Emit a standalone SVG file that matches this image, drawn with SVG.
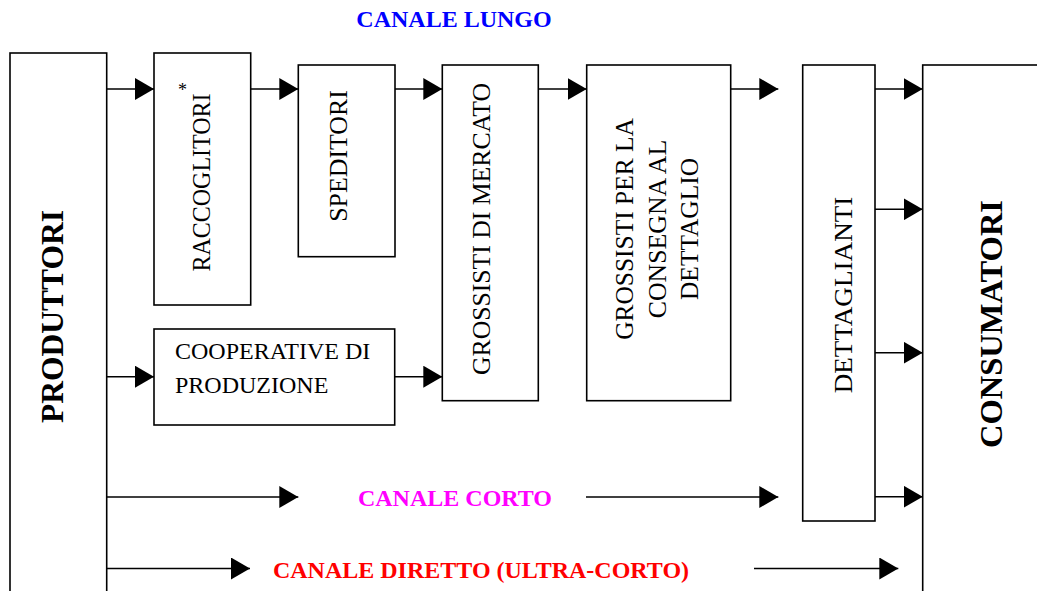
<svg xmlns="http://www.w3.org/2000/svg" width="1037" height="591" viewBox="0 0 1037 591">
<style>
.box{fill:#fff;stroke:#000;stroke-width:1.6}
.ln{fill:none;stroke:#000;stroke-width:1.6}
.t{font-family:"Liberation Serif","Times New Roman",serif;font-size:25px;fill:#000}
.tb{font-family:"Liberation Serif","Times New Roman",serif;font-size:32px;font-weight:bold;fill:#000}
.lab{font-family:"Liberation Serif","Times New Roman",serif;font-size:24px;font-weight:bold}
</style>
<defs>
<marker id="ah" markerUnits="userSpaceOnUse" markerWidth="20" markerHeight="22" refX="19" refY="11" orient="auto">
<path d="M0,0 L19,11 L0,22 z" fill="#000"/>
</marker>
</defs>
<rect width="1037" height="591" fill="#fff"/>
<g id="labels">
<text class="lab" x="454" y="26.7" text-anchor="middle" fill="#0000ff">CANALE LUNGO</text>
<text class="lab" x="455" y="506" text-anchor="middle" fill="#ff00ff">CANALE CORTO</text>
<text class="lab" x="481" y="578" text-anchor="middle" fill="#ff0000">CANALE DIRETTO (ULTRA-CORTO)</text>
</g>
<g id="produttori">
<rect class="box" x="10" y="53" width="96.7" height="600"/>
<text class="tb" transform="translate(63.3,316.5) rotate(-90)" text-anchor="middle" textLength="213" lengthAdjust="spacingAndGlyphs">PRODUTTORI</text>
</g>
<g id="raccoglitori">
<rect class="box" x="154" y="53" width="96.7" height="252"/>
<text class="t" transform="translate(210,182.5) rotate(-90)" text-anchor="middle" textLength="178" lengthAdjust="spacingAndGlyphs">RACCOGLITORI</text>
<text x="182.5" y="96" text-anchor="middle" style="font-family:'Liberation Serif',serif;font-size:18px">*</text>
</g>
<g id="speditori">
<rect class="box" x="298.3" y="65" width="96.7" height="191.7"/>
<text class="t" transform="translate(346.7,156) rotate(-90)" text-anchor="middle" textLength="131.7" lengthAdjust="spacingAndGlyphs">SPEDITORI</text>
</g>
<g id="grossisti-mercato">
<rect class="box" x="442.3" y="65" width="96" height="335.7"/>
<text class="t" transform="translate(490,229) rotate(-90)" text-anchor="middle" textLength="292" lengthAdjust="spacingAndGlyphs">GROSSISTI DI MERCATO</text>
</g>
<g id="grossisti-dettaglio">
<rect class="box" x="586.7" y="65" width="144" height="335.7"/>
<text class="t" transform="translate(633.3,229) rotate(-90)" text-anchor="middle" textLength="221.6" lengthAdjust="spacingAndGlyphs">GROSSISTI PER LA</text>
<text class="t" transform="translate(665.5,229) rotate(-90)" text-anchor="middle" textLength="178.5" lengthAdjust="spacingAndGlyphs">CONSEGNA AL</text>
<text class="t" transform="translate(698.3,229) rotate(-90)" text-anchor="middle" textLength="142" lengthAdjust="spacingAndGlyphs">DETTAGLIO</text>
</g>
<g id="dettaglianti">
<rect class="box" x="802.7" y="65" width="72.3" height="456"/>
<text class="t" transform="translate(851.7,295) rotate(-90)" text-anchor="middle" textLength="196.7" lengthAdjust="spacingAndGlyphs">DETTAGLIANTI</text>
</g>
<g id="consumatori">
<rect class="box" x="922.7" y="65" width="200" height="600"/>
<text class="tb" transform="translate(1001.7,324) rotate(-90)" text-anchor="middle" textLength="248" lengthAdjust="spacingAndGlyphs">CONSUMATORI</text>
</g>
<g id="cooperative">
<rect class="box" x="154" y="329" width="240.7" height="96"/>
<text class="t" x="175" y="359" style="font-size:24px">COOPERATIVE DI</text>
<text class="t" x="175" y="392.7" style="font-size:24px">PRODUZIONE</text>
</g>
<g id="connectors">
<line class="ln" x1="106.7" y1="89" x2="154" y2="89" marker-end="url(#ah)"/>
<line class="ln" x1="250.7" y1="89" x2="298.3" y2="89" marker-end="url(#ah)"/>
<line class="ln" x1="395" y1="89" x2="442.3" y2="89" marker-end="url(#ah)"/>
<line class="ln" x1="538.3" y1="89" x2="586.7" y2="89" marker-end="url(#ah)"/>
<line class="ln" x1="730.7" y1="89" x2="778.3" y2="89" marker-end="url(#ah)"/>
<line class="ln" x1="875" y1="89" x2="922.7" y2="89" marker-end="url(#ah)"/>
<line class="ln" x1="875" y1="209.3" x2="922.7" y2="209.3" marker-end="url(#ah)"/>
<line class="ln" x1="875" y1="352.7" x2="922.7" y2="352.7" marker-end="url(#ah)"/>
<line class="ln" x1="875" y1="496.7" x2="922.7" y2="496.7" marker-end="url(#ah)"/>
<line class="ln" x1="106.7" y1="376.7" x2="154" y2="376.7" marker-end="url(#ah)"/>
<line class="ln" x1="394.7" y1="376.7" x2="442.3" y2="376.7" marker-end="url(#ah)"/>
<line class="ln" x1="106.7" y1="497" x2="298.3" y2="497" marker-end="url(#ah)"/>
<line class="ln" x1="586" y1="497" x2="778.3" y2="497" marker-end="url(#ah)"/>
<line class="ln" x1="106.7" y1="568.5" x2="250" y2="568.5" marker-end="url(#ah)"/>
<line class="ln" x1="754" y1="568.5" x2="898.3" y2="568.5" marker-end="url(#ah)"/>
</g>
</svg>
